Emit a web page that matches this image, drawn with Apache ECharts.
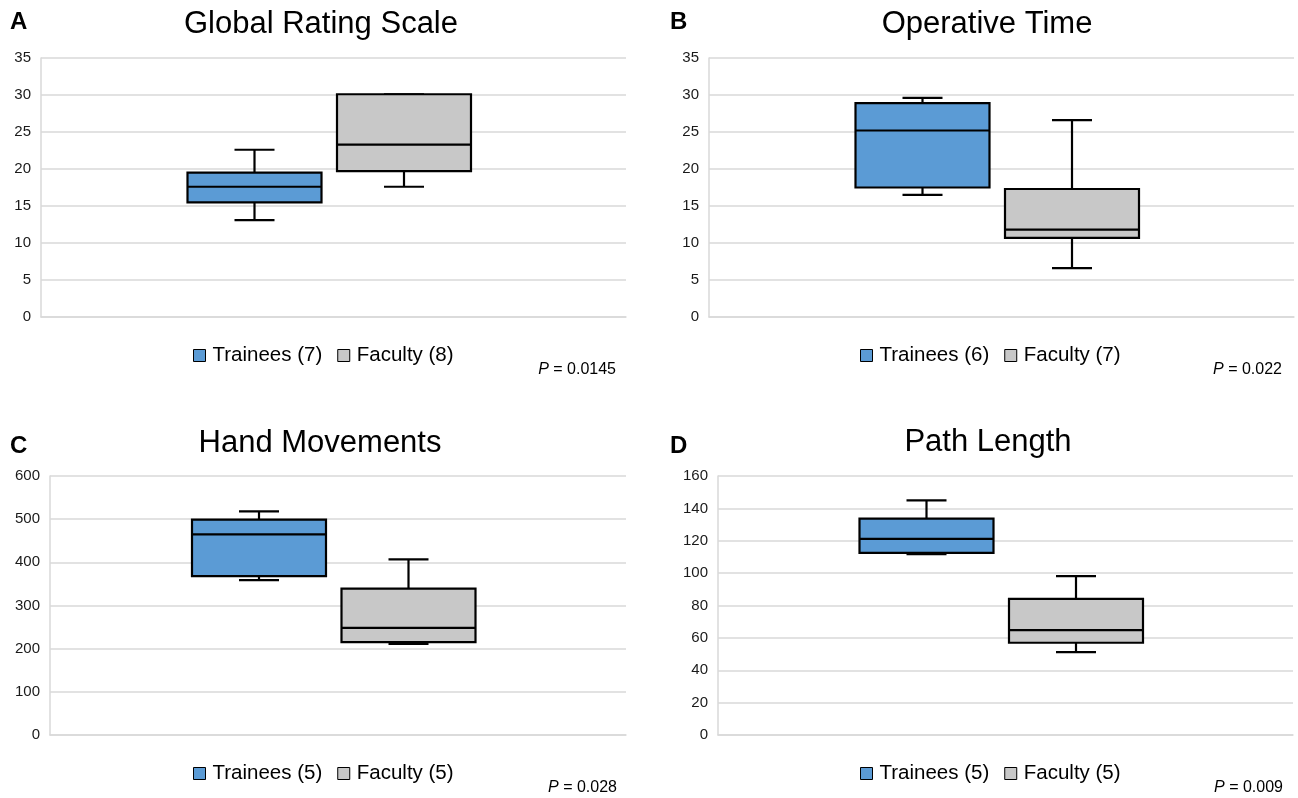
<!DOCTYPE html>
<html>
<head>
<meta charset="utf-8">
<script src="https://cdn.jsdelivr.net/npm/echarts@6/dist/echarts.min.js"></script>
<style>
html,body{margin:0;padding:0;background:#fff;}
#chart{width:1298px;height:798px;}
</style>
</head>
<body>
<div id="chart"></div>
<script>
// ---- data: [min, Q1, median, Q3, max] ----
const categories = ['Group'];
const panelTitles = ['Global Rating Scale', 'Operative Time', 'Hand Movements', 'Path Length'];
const panelLetters = ['A', 'B', 'C', 'D'];
const pValues = ['0.0145', '0.022', '0.028', '0.009'];
const traineeNames = ['Trainees (7)', 'Trainees (6)', 'Trainees (5)', 'Trainees (5)'];
const facultyNames = ['Faculty (8)', 'Faculty (7)', 'Faculty (5)', 'Faculty (5)'];
const yMaxes = [35, 35, 600, 160];
const yIntervals = [5, 5, 100, 20];

const grsTrainees = [13.1, 15.5, 17.6, 19.5, 22.6];
const grsFaculty = [17.6, 19.7, 23.3, 30.1, 30.1];
const opTimeTrainees = [16.5, 17.5, 25.2, 28.9, 29.6];
const opTimeFaculty = [6.6, 10.7, 11.8, 17.3, 26.6];
const handTrainees = [359, 368, 465, 499, 518];
const handFaculty = [211, 215, 248, 339, 407];
const pathTrainees = [111.7, 112.5, 121.1, 133.7, 145];
const pathFaculty = [51.2, 57, 64.8, 84.1, 98.1];

const traineeData = [grsTrainees, opTimeTrainees, handTrainees, pathTrainees];
const facultyData = [grsFaculty, opTimeFaculty, handFaculty, pathFaculty];

// ---- layout / style ----
const FONT = '"Liberation Sans", Arial, sans-serif';
const grids = [
  {left: 41, top: 58, width: 585, height: 259},
  {left: 709, top: 58, width: 585, height: 259},
  {left: 50, top: 476, width: 576, height: 259},
  {left: 718, top: 476, width: 575, height: 259}
];
const BOX_W = 134, CAP_W = 40, OFF_T = -79, OFF_F = 70.5;
const BLUE = '#5b9bd5', GRAY = '#c8c8c8', GRID = '#d9d9d9';

function makeRender(offset) {
  return function (params, api) {
    const c = api.value(0);
    const xc = api.coord([c, api.value(3)])[0] + offset;
    const yMin = api.coord([c, api.value(1)])[1];
    const yQ1 = api.coord([c, api.value(2)])[1];
    const yMed = api.coord([c, api.value(3)])[1];
    const yQ3 = api.coord([c, api.value(4)])[1];
    const yMax = api.coord([c, api.value(5)])[1];
    const ls = {stroke: '#000', lineWidth: 2.2};
    return {
      type: 'group',
      children: [
        {type: 'line', shape: {x1: xc, y1: yMax, x2: xc, y2: yQ3}, style: ls},
        {type: 'line', shape: {x1: xc - CAP_W / 2, y1: yMax, x2: xc + CAP_W / 2, y2: yMax}, style: ls},
        {type: 'line', shape: {x1: xc, y1: yQ1, x2: xc, y2: yMin}, style: ls},
        {type: 'line', shape: {x1: xc - CAP_W / 2, y1: yMin, x2: xc + CAP_W / 2, y2: yMin}, style: ls},
        {type: 'rect', shape: {x: xc - BOX_W / 2, y: yQ3, width: BOX_W, height: yQ1 - yQ3},
          style: {fill: api.visual('color'), stroke: '#000', lineWidth: 2.2}},
        {type: 'line', shape: {x1: xc - BOX_W / 2, y1: yMed, x2: xc + BOX_W / 2, y2: yMed}, style: ls}
      ]
    };
  };
}

const xAxis = [], yAxis = [], series = [], legend = [], graphic = [];
const legendLeft = [193, 860, 193, 860];
const legendTop = [345, 345, 763, 763];
const titlePos = [[321, 24], [987, 24], [320, 443], [988, 442]];
const letterPos = [[10, 22], [670, 22], [10, 446], [670, 446]];
const pPos = [[616, 370], [1282, 370], [617, 788], [1283, 788]];

for (let i = 0; i < 4; i++) {
  xAxis.push({
    type: 'category', gridIndex: i, data: categories,
    axisLine: {show: true, lineStyle: {color: GRID, width: 1.5}},
    axisTick: {show: false}, axisLabel: {show: false}, splitLine: {show: false}
  });
  yAxis.push({
    type: 'value', gridIndex: i, min: 0, max: yMaxes[i], interval: yIntervals[i],
    axisLine: {show: true, lineStyle: {color: GRID, width: 1.5}},
    axisTick: {show: false},
    axisLabel: {fontSize: 15, color: '#1a1a1a', fontFamily: FONT, margin: 10},
    splitLine: {show: true, lineStyle: {color: GRID, width: 1.5}}
  });
  series.push({
    type: 'custom', name: traineeNames[i], xAxisIndex: i, yAxisIndex: i,
    itemStyle: {color: BLUE},
    renderItem: makeRender(OFF_T),
    encode: {x: 0, y: [1, 2, 3, 4, 5]},
    data: [[0].concat(traineeData[i])]
  });
  series.push({
    type: 'custom', name: facultyNames[i], xAxisIndex: i, yAxisIndex: i,
    itemStyle: {color: GRAY},
    renderItem: makeRender(OFF_F),
    encode: {x: 0, y: [1, 2, 3, 4, 5]},
    data: [[0].concat(facultyData[i])]
  });
  legend.push({
    left: legendLeft[i], top: legendTop[i], padding: 0,
    itemWidth: 12, itemHeight: 12, itemGap: 15, icon: 'rect',
    itemStyle: {borderColor: '#000', borderWidth: 1},
    textStyle: {fontSize: 20.5, color: '#000', fontFamily: FONT, padding: [0, 0, 0, 2]},
    data: [traineeNames[i], facultyNames[i]],
    selectedMode: false
  });
  graphic.push({
    type: 'text', x: titlePos[i][0], y: titlePos[i][1],
    style: {text: panelTitles[i], fontSize: 31, fontFamily: FONT, fill: '#000', align: 'center', verticalAlign: 'middle'}
  });
  graphic.push({
    type: 'text', x: letterPos[i][0], y: letterPos[i][1],
    style: {text: panelLetters[i], fontSize: 24, fontWeight: 'bold', fontFamily: FONT, fill: '#000', align: 'left', verticalAlign: 'middle'}
  });
  graphic.push({
    type: 'text', x: pPos[i][0], y: pPos[i][1],
    style: {
      text: '{i|P} = ' + pValues[i],
      fontSize: 16, fontFamily: FONT, fill: '#000', align: 'right', verticalAlign: 'middle',
      rich: {i: {fontStyle: 'italic', fontSize: 16, fontFamily: FONT, fill: '#000'}}
    }
  });
}

const chart = echarts.init(document.getElementById('chart'), null, {renderer: 'canvas'});
chart.setOption({
  animation: false,
  backgroundColor: '#fff',
  grid: grids,
  xAxis: xAxis,
  yAxis: yAxis,
  legend: legend,
  series: series,
  graphic: graphic
});
</script>
</body>
</html>
